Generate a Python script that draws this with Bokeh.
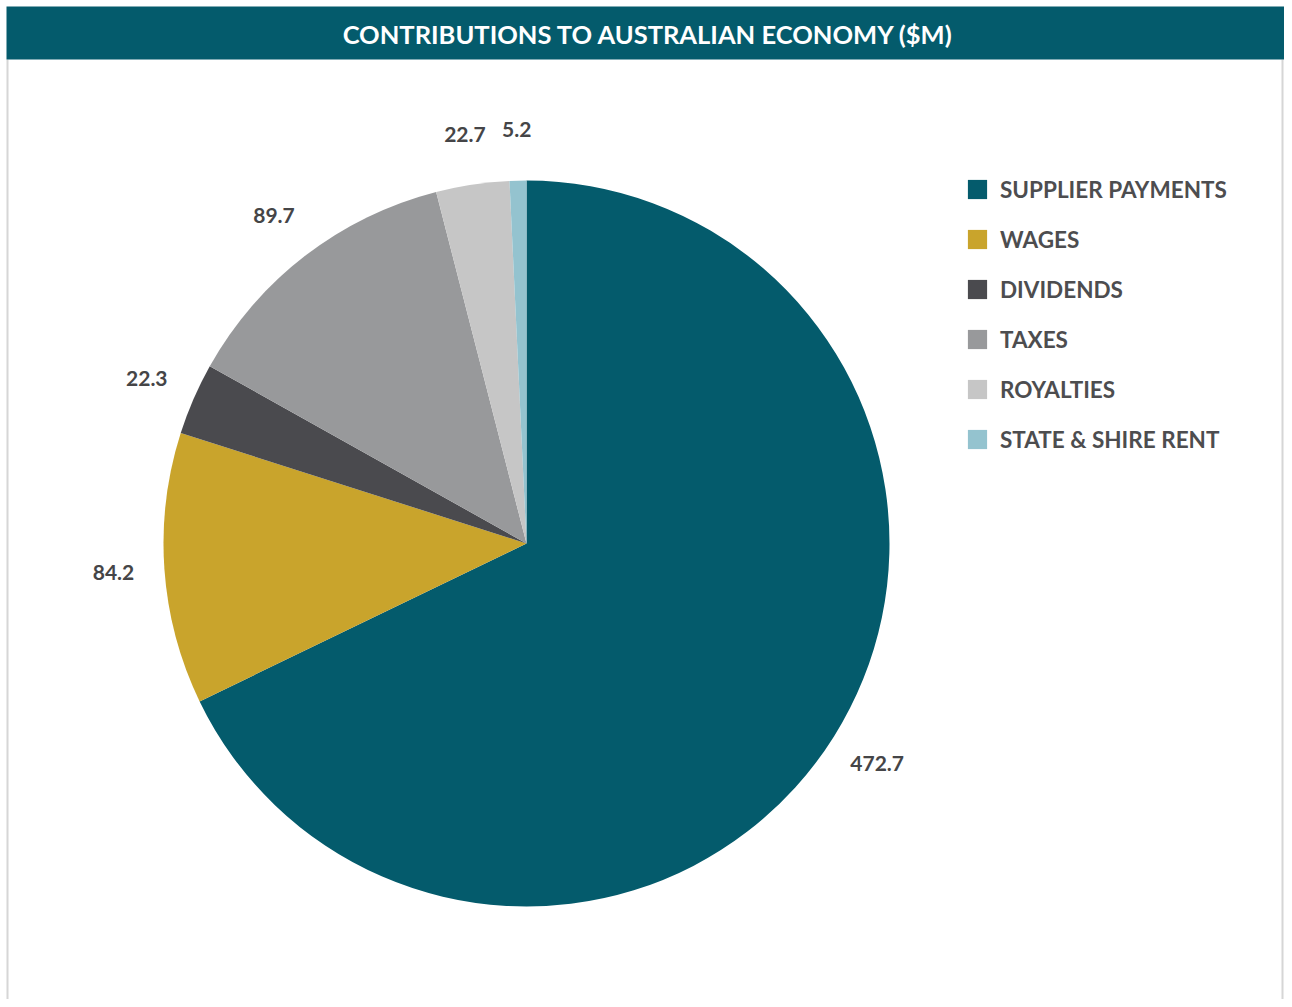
import math
from bokeh.plotting import figure
from bokeh.models import ColumnDataSource, Range1d, Legend, LegendItem
from bokeh.core.properties import value
from bokeh.embed import file_html
from bokeh.resources import INLINE

# ---- data ----
title_text = "CONTRIBUTIONS TO AUSTRALIAN ECONOMY ($M)"
categories = ["SUPPLIER PAYMENTS", "WAGES", "DIVIDENDS", "TAXES", "ROYALTIES", "STATE & SHIRE RENT"]
amounts = [472.7, 84.2, 22.3, 89.7, 22.7, 5.2]
colors = ["#045b6c", "#c9a42c", "#4a4a4e", "#98999b", "#c6c6c6", "#94c3cf"]

W, H = 1284, 999
FONT = "Lato"

# pie geometry (screen units, y up)
cx, cy = 526, H - 543
R = 363
label_r = 414

total = sum(amounts)
starts, ends, mids = [], [], []
a = math.pi / 2
for v in amounts:
    sweep = v / total * 2 * math.pi
    starts.append(a)
    ends.append(a - sweep)
    mids.append(a - sweep / 2)
    a -= sweep

lx = [cx + label_r * math.cos(m) for m in mids]
ly = [cy + label_r * math.sin(m) for m in mids]
labels = [f"{v:.1f}" for v in amounts]

src = ColumnDataSource(dict(
    cat=categories, val=amounts, color=colors,
    start=starts, end=ends,
    x=[cx] * len(amounts), y=[cy] * len(amounts),
))
lsrc = ColumnDataSource(dict(x=lx, y=ly, text=labels))

p = figure(width=W, height=H, output_backend="svg", toolbar_location=None,
           x_range=Range1d(0, W), y_range=Range1d(0, H), min_border=0,
           background_fill_color="white", border_fill_color="white")
p.axis.visible = False
p.grid.visible = False
p.outline_line_color = None

# frame borders
p.segment(x0=[7, W - 2], y0=[0, 0], x1=[7, W - 2], y1=[H - 59, H - 59],
          line_color="#d6d6d6", line_width=2)

# title bar
p.quad(left=[6], right=[W], top=[H - 6], bottom=[H - 59], fill_color="#045b6c", line_color=None)
p.text(x=[648], y=[H - 33], text=[title_text], text_color="white",
       text_font=value(FONT), text_font_style="bold", text_font_size="25.5px",
       text_align="center", text_baseline="middle")

# pie
r = p.wedge(x="x", y="y", radius=R, radius_units="screen",
            start_angle="start", end_angle="end", direction="clock",
            fill_color="color", line_color=None, source=src)

# data labels
p.text(x="x", y="y", text="text", source=lsrc, text_color="#454547",
       text_font=value(FONT), text_font_style="bold", text_font_size="21px",
       text_align="center", text_baseline="middle")

legend = Legend(
    items=[LegendItem(label=c, renderers=[r], index=i) for i, c in enumerate(categories)],
    location=(965, 545), orientation="vertical",
    glyph_width=24, glyph_height=24, label_height=30, spacing=20,
    label_standoff=11, padding=0, margin=0,
    label_text_font=FONT, label_text_font_style="bold", label_text_font_size="22.5px",
    label_text_color="#4d4d4f", border_line_color=None, background_fill_alpha=0,
)
p.add_layout(legend)

open("out.html", "w").write(file_html(p, INLINE))
